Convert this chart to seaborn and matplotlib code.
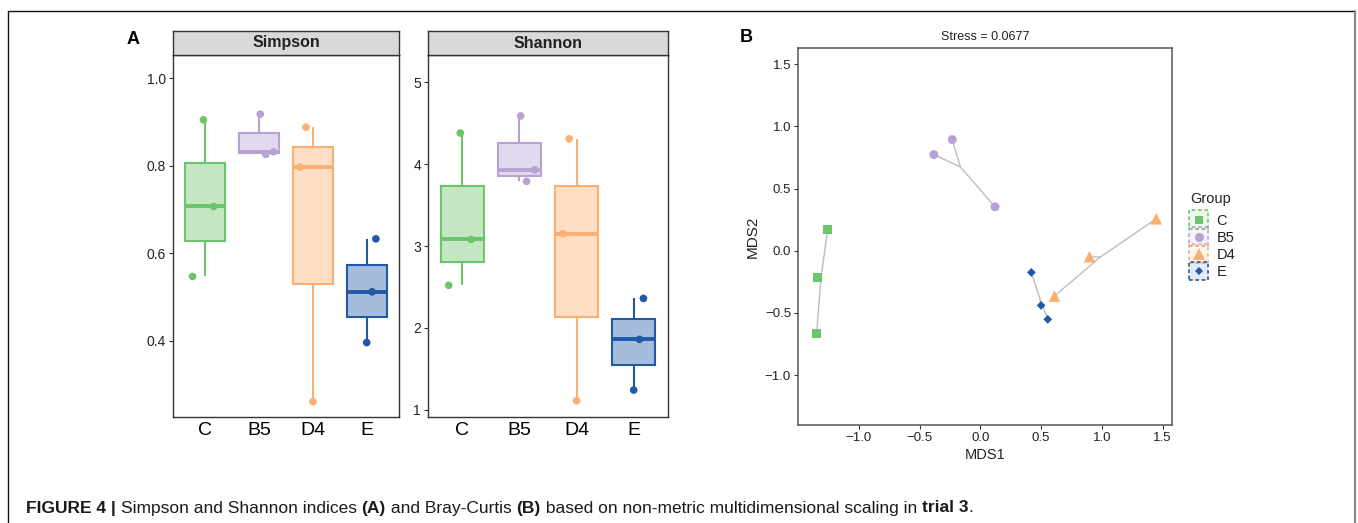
import numpy as np
import pandas as pd
import matplotlib
matplotlib.use("Agg")
import matplotlib.pyplot as plt
import seaborn as sns
from matplotlib.colors import to_rgba
from matplotlib.lines import Line2D
from matplotlib.patches import Rectangle
from matplotlib.legend_handler import HandlerBase

# ---- data -------------------------------------------------------------
groups = ["C", "B5", "D4", "E"]
colors = ["#6CC56B", "#B7A2D6", "#FDAF72", "#2158A8"]

simpson_C = [0.547, 0.707, 0.905]
simpson_B5 = [0.826, 0.832, 0.918]
simpson_D4 = [0.261, 0.797, 0.888]
simpson_E = [0.396, 0.512, 0.633]

shannon_C = [2.52, 3.08, 4.38]
shannon_B5 = [3.79, 3.93, 4.59]
shannon_D4 = [1.11, 3.15, 4.31]
shannon_E = [1.24, 1.86, 2.36]

mds1_C = [-1.256, -1.338, -1.346]
mds2_C = [0.171, -0.217, -0.663]
mds1_B5 = [-0.382, -0.231, 0.121]
mds2_B5 = [0.773, 0.893, 0.353]
mds1_D4 = [1.448, 0.898, 0.610]
mds2_D4 = [0.257, -0.048, -0.364]
mds1_E = [0.420, 0.500, 0.555]
mds2_E = [-0.174, -0.439, -0.551]

stress = 0.0677

# ---- tables -----------------------------------------------------------
simpson = {"C": simpson_C, "B5": simpson_B5, "D4": simpson_D4, "E": simpson_E}
shannon = {"C": shannon_C, "B5": shannon_B5, "D4": shannon_D4, "E": shannon_E}
mds1 = {"C": mds1_C, "B5": mds1_B5, "D4": mds1_D4, "E": mds1_E}
mds2 = {"C": mds2_C, "B5": mds2_B5, "D4": mds2_D4, "E": mds2_E}

def long_table(d):
    return pd.DataFrame([(g, v) for g in groups for v in d[g]], columns=["group", "value"])

df_simpson = long_table(simpson)
df_shannon = long_table(shannon)
df_mds = pd.DataFrame([(g, x, y) for g in groups for x, y in zip(mds1[g], mds2[g])],
                      columns=["group", "MDS1", "MDS2"])
palette = dict(zip(groups, colors))

# ---- style ------------------------------------------------------------
sns.set_style("white")
plt.rcParams["font.family"] = ["Liberation Sans", "DejaVu Sans"]
W, H = 1358, 523
fig = plt.figure(figsize=(W / 100, H / 100), dpi=100)
fig.patch.set_facecolor("white")

def fx(px):
    return px / W

def fy(py):
    return 1 - py / H

ink = "#222222"

# ---- boxplot panels ---------------------------------------------------
def box_panel(left, right, top, bottom, df, ylim, yticks, ytl, title, seed):
    ax = fig.add_axes([fx(left), fy(bottom), fx(right - left), (bottom - top) / H])
    sns.boxplot(data=df, x="group", y="value", hue="group", order=groups, hue_order=groups,
                palette=palette, width=0.75, showcaps=False, showfliers=False,
                legend=False, ax=ax, linewidth=1.4)
    for cont, col in zip(ax.containers, colors):
        for b in getattr(cont, "boxes", []):
            b.set_facecolor(to_rgba(col, 0.4))
            b.set_edgecolor(col)
            b.set_linewidth(1.5)
        for w in getattr(cont, "whiskers", []):
            w.set_color(col)
            w.set_linewidth(1.5)
        for m in getattr(cont, "medians", []):
            m.set_color(col)
            m.set_linewidth(2.8)
    np.random.seed(seed)
    sns.stripplot(data=df, x="group", y="value", hue="group", order=groups, hue_order=groups,
                  palette=palette, jitter=0.28, size=5.5, linewidth=0, legend=False,
                  ax=ax, zorder=5)
    ax.set_xlim(-0.6, 3.6)
    ax.set_ylim(*ylim)
    ax.set_yticks(yticks)
    ax.set_yticklabels(ytl)
    ax.set_xlabel("")
    ax.set_ylabel("")
    ax.tick_params(axis="x", length=0, pad=3.5, labelsize=14, labelcolor="black")
    ax.tick_params(axis="y", left=True, length=3, width=0.8, color="#333333",
                   pad=2, labelsize=10, labelcolor=ink)
    for s in ax.spines.values():
        s.set_color("#333333")
        s.set_linewidth(1.0)
    strip = fig.add_axes([fx(left), fy(top), fx(right - left), 24 / H])
    strip.set_facecolor("#D9D9D9")
    strip.set_xticks([])
    strip.set_yticks([])
    for s in strip.spines.values():
        s.set_color("#333333")
        s.set_linewidth(1.0)
    strip.text(0.5, 0.5, title, ha="center", va="center", fontsize=11.5,
               fontweight="bold", color=ink, transform=strip.transAxes)
    return ax

box_panel(173, 399, 55, 417, df_simpson, (0.226, 1.053),
          [0.4, 0.6, 0.8, 1.0], ["0.4", "0.6", "0.8", "1.0"], "Simpson", 7)
box_panel(428, 668, 55, 417, df_shannon, (0.911, 5.334),
          [1, 2, 3, 4, 5], ["1", "2", "3", "4", "5"], "Shannon", 7)

# ---- NMDS panel -------------------------------------------------------
axm = fig.add_axes([fx(798), fy(425), fx(1172 - 798), (425 - 48) / H])
for g, col in zip(groups, colors):
    cx, cy = np.mean(mds1[g]), np.mean(mds2[g])
    for x, y in zip(mds1[g], mds2[g]):
        axm.plot([cx, x], [cy, y], color="#BDBDBD", lw=1.0, zorder=1)
markers = {"C": "s", "B5": "o", "D4": "^", "E": "D"}
sizes = {"C": 40, "B5": 42, "D4": 70, "E": 20}
sns.scatterplot(data=df_mds, x="MDS1", y="MDS2", hue="group", style="group", size="group",
                hue_order=groups, style_order=groups, size_order=groups,
                palette=palette, markers=markers, sizes=sizes, linewidth=0,
                legend=False, ax=axm, zorder=3)
axm.set_xlim(-1.50, 1.577)
axm.set_ylim(-1.40, 1.629)
ticks = [-1.0, -0.5, 0.0, 0.5, 1.0, 1.5]
tick_labels = ["\u22121.0", "\u22120.5", "0.0", "0.5", "1.0", "1.5"]
axm.set_xticks(ticks)
axm.set_xticklabels(tick_labels)
axm.set_yticks(ticks)
axm.set_yticklabels(tick_labels)
axm.tick_params(axis="both", bottom=True, left=True, length=3, width=0.8,
                color="#333333", pad=2, labelsize=9.5, labelcolor=ink)
axm.set_xlabel("MDS1", fontsize=10.5, color=ink, labelpad=3)
axm.set_ylabel("MDS2", fontsize=11, color=ink, labelpad=4)
axm.set_title(f"Stress = {stress}", fontsize=9, color=ink, pad=6)
for s in axm.spines.values():
    s.set_color("#555555")
    s.set_linewidth(1.1)


class DashedKeyHandler(HandlerBase):
    def create_artists(self, legend, orig_handle, xdescent, ydescent, width, height,
                       fontsize, trans):
        col = orig_handle.get_color()
        side = 13.5
        cx = width / 2 - xdescent
        cy = height / 2 - ydescent
        box = Rectangle((cx - side / 2, cy - side / 2), side, side,
                        facecolor=to_rgba(col, 0.12), edgecolor=col,
                        linestyle=(0, (2.2, 1.6)), linewidth=1.2, transform=trans)
        mk = Line2D([cx], [cy], marker=orig_handle.get_marker(), color=col,
                    markersize=orig_handle.get_markersize(), linestyle="none",
                    markeredgewidth=0, transform=trans)
        return [box, mk]


msz = {"C": 6, "B5": 6.5, "D4": 8, "E": 4.5}
handles = [Line2D([], [], marker=markers[g], color=c, markersize=msz[g], linestyle="none")
           for g, c in zip(groups, colors)]
fig.text(fx(1190), fy(199), "Group", fontsize=10.5, color=ink, ha="left", va="center")
leg = axm.legend(handles, groups, loc="upper left",
                 bbox_to_anchor=(fx(1190), fy(213)), bbox_transform=fig.transFigure,
                 frameon=False, handler_map={Line2D: DashedKeyHandler()},
                 handlelength=1.2, handleheight=1.0, labelspacing=0.18,
                 handletextpad=0.6, borderaxespad=0, borderpad=0, fontsize=10.5)
for t in leg.get_texts():
    t.set_color(ink)

# ---- panel letters ----------------------------------------------------
fig.text(fx(133), fy(39), "A", fontsize=13, fontweight="bold", ha="center", va="center",
         color="black")
fig.text(fx(746), fy(38), "B", fontsize=13, fontweight="bold", ha="center", va="center",
         color="black")

# ---- frame ------------------------------------------------------------
fig.add_artist(Line2D([fx(8), fx(1355)], [fy(11), fy(11)], transform=fig.transFigure,
                      color="#111111", lw=1.0))
fig.add_artist(Line2D([fx(8), fx(8)], [fy(11), 0], transform=fig.transFigure,
                      color="#111111", lw=1.0))
fig.add_artist(Line2D([fx(1355), fx(1355)], [fy(11), 0], transform=fig.transFigure,
                      color="#888888", lw=1.6))

# ---- caption ----------------------------------------------------------
cap_ax = fig.add_axes([0, 0, 1, 1], zorder=-1)
cap_ax.axis("off")
parts = [("FIGURE 4 | ", "bold"), ("Simpson and Shannon indices ", "normal"),
         ("(A)", "bold"), (" and Bray-Curtis ", "normal"), ("(B)", "bold"),
         (" based on non-metric multidimensional scaling in ", "normal"),
         ("trial 3", "bold"), (".", "normal")]
prev = cap_ax.text(fx(26), fy(515.5), parts[0][0], fontsize=12.5, fontweight=parts[0][1],
                   color="#1a1a1a", ha="left", va="bottom", transform=cap_ax.transAxes)
for txt, wt in parts[1:]:
    prev = cap_ax.annotate(txt, xy=(1, 0), xycoords=prev, ha="left", va="bottom",
                           fontsize=12.5, fontweight=wt, color="#1a1a1a")

fig.savefig("out.png", dpi=100, facecolor="white")
